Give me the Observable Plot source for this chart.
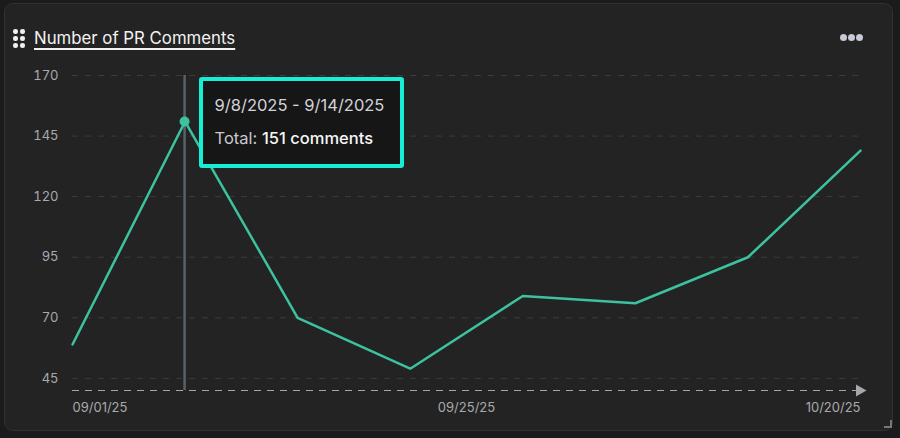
<!DOCTYPE html>
<html>
<head>
<meta charset="utf-8">
<script src="https://cdn.jsdelivr.net/npm/d3@7"></script>
<script src="https://cdn.jsdelivr.net/npm/@observablehq/plot@0.6"></script>
<style>
  html, body { margin: 0; padding: 0; background: #1b1b1b; }
  body { width: 900px; height: 438px; overflow: hidden; font-family: Inter, "Noto Sans", sans-serif; }
  #wrap { position: relative; width: 900px; height: 438px; }
  #card { position: absolute; left: 4px; top: 3px; width: 889px; height: 428px; background: #232323;
          border: 1px solid #313131; border-radius: 9px; box-sizing: border-box; }
  #chart { position: absolute; left: 0; top: 0; }
  #title { position: absolute; left: 34px; top: 28px; font-size: 16.8px; color: #f2f2f2;
           text-decoration: underline; text-underline-offset: 4px; text-decoration-thickness: 1.5px; }
  .grip { position: absolute; width: 4.5px; height: 4.5px; border-radius: 50%; background: #f0f0f0; }
  .more { position: absolute; width: 7px; height: 7px; border-radius: 50%; background: #c6c9d6; top: 34px; }
  #corner { position: absolute; left: 884px; top: 420px; width: 6px; height: 6px;
            border-right: 2px solid #777; border-bottom: 2px solid #777; }
  #tip { position: absolute; background: #161616; border: 4px solid #16eed6; border-radius: 3px;
         box-sizing: border-box; width: 205px; height: 91px; padding: 12px 0 0 12px; }
  #tip .range { font-size: 16.5px; color: #d2d3da; line-height: 20px; margin-top: 2px; }
  #tip .total { font-size: 16.5px; color: #c9c9cc; line-height: 20px; margin-top: 13px; }
  #tip .total b { color: #f6f6f6; font-weight: 500; }
</style>
</head>
<body>
<div id="wrap">
  <div id="card"></div>
  <div id="chart"></div>
  <div id="title">Number of PR Comments</div>
  <div class="grip" style="left:13px;top:29px"></div>
  <div class="grip" style="left:20px;top:29px"></div>
  <div class="grip" style="left:13px;top:36px"></div>
  <div class="grip" style="left:20px;top:36px"></div>
  <div class="grip" style="left:13px;top:43px"></div>
  <div class="grip" style="left:20px;top:43px"></div>
  <div class="more" style="left:840px"></div>
  <div class="more" style="left:848px"></div>
  <div class="more" style="left:856px"></div>
  <div id="corner"></div>
</div>
<script>
// ---- data ----
const weekStarts = ["2025-09-01","2025-09-08","2025-09-15","2025-09-22","2025-09-29","2025-10-06","2025-10-13","2025-10-20"];
const comments = [59, 151, 70, 49, 79, 76, 95, 139];
const yTicks = [45, 70, 95, 120, 145, 170];
const yDomain = [40, 170];
const xTickDates = ["2025-09-01", "2025-09-25T12:00", "2025-10-20"];
const xTickLabels = ["09/01/25", "09/25/25", "10/20/25"];
const selectedIndex = 1;
const tooltipRange = "9/8/2025 - 9/14/2025";
const tooltipUnit = "comments";

const data = weekStarts.map((d, i) => ({date: new Date(d + "T00:00Z"), value: comments[i]}));
const xTicks = xTickDates.map((d, i) => ({date: new Date(d + (d.includes("T") ? "Z" : "T00:00Z")), label: xTickLabels[i]}));
const sel = data[selectedIndex];
const domainX = [data[0].date, data[data.length - 1].date];

const lineColor = "#3dc2a0";
const labelColor = "#a9a9ad";

const chart = Plot.plot({
  width: 900,
  height: 438,
  marginLeft: 72,
  marginRight: 40,
  marginTop: 75,
  marginBottom: 48,
  style: {background: "transparent", fontFamily: "Inter, 'Noto Sans', sans-serif"},
  x: {type: "utc", domain: domainX, axis: null},
  y: {domain: yDomain, axis: null},
  marks: [
    Plot.ruleY(yTicks, {stroke: "#3c3c3c", strokeWidth: 1, strokeDasharray: "6,7"}),
    Plot.axisY(yTicks, {tickSize: 0, tickPadding: 14, fontSize: 13, fill: labelColor, anchor: "left", tickFormat: d => String(d)}),
    Plot.ruleY([yDomain[0]], {x1: domainX[0], x2: domainX[1], stroke: "#a6a6ab", strokeWidth: 1.2, strokeDasharray: "7,6"}),
    Plot.dot([{date: domainX[1], v: yDomain[0]}], {x: "date", y: "v", symbol: "triangle", rotate: 90, r: 4.5, fill: "#a6a6ab", stroke: "none", dx: -1}),
    Plot.text([xTicks[0]], {x: "date", y: () => yDomain[0], text: "label", textAnchor: "start", dy: 17, fontSize: 13, fill: labelColor}),
    Plot.text([xTicks[1]], {x: "date", y: () => yDomain[0], text: "label", textAnchor: "middle", dy: 17, fontSize: 13, fill: labelColor}),
    Plot.text([xTicks[2]], {x: "date", y: () => yDomain[0], text: "label", textAnchor: "end", dy: 17, fontSize: 13, fill: labelColor}),
    Plot.ruleX([sel], {x: "date", y1: yDomain[0], y2: yDomain[1], stroke: "#5a6167", strokeWidth: 2.5, dx: -0.5}),
    Plot.line(data, {x: "date", y: "value", stroke: lineColor, strokeWidth: 2.5, strokeLinejoin: "miter"}),
    Plot.dot([sel], {x: "date", y: "value", r: 5, fill: lineColor, stroke: "none", dx: -0.5})
  ]
});
document.getElementById("chart").appendChild(chart);

// tooltip positioned from the chart's scales
const px = chart.scale("x").apply(sel.date);
const py = chart.scale("y").apply(sel.value);
const tip = document.createElement("div");
tip.id = "tip";
tip.style.left = (px + 14) + "px";
tip.style.top = (py - 44) + "px";
tip.innerHTML = `<div class="range">${tooltipRange}</div><div class="total">Total: <b>${sel.value} ${tooltipUnit}</b></div>`;
document.getElementById("wrap").appendChild(tip);
</script>
</body>
</html>
